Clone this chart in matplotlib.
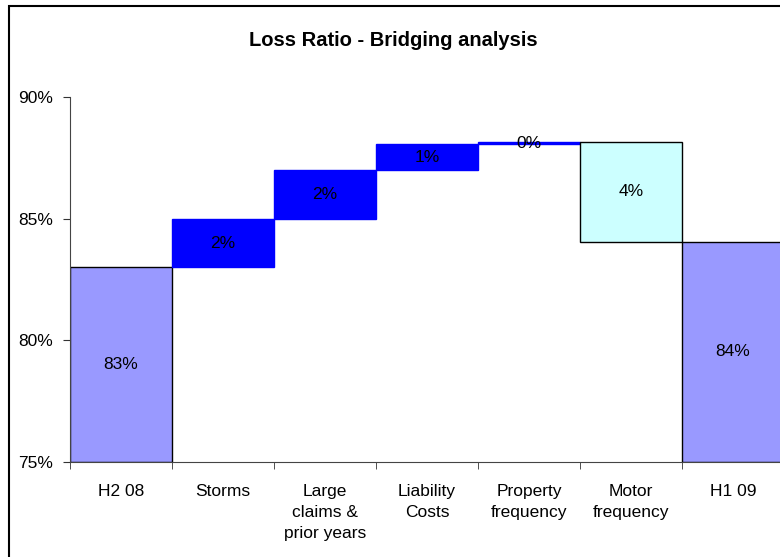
import matplotlib
matplotlib.use("Agg")
import matplotlib.pyplot as plt
from matplotlib.patches import Rectangle

categories = ["H2 08", "Storms", "Large\nclaims &\nprior years", "Liability\nCosts",
              "Property\nfrequency", "Motor\nfrequency", "H1 09"]
start_value = 83.0
deltas = [2.0, 2.0, 1.05, 0.1, -4.1]
labels = ["83%", "2%", "2%", "1%", "0%", "4%", "84%"]
yticks = [75, 80, 85, 90]
ytick_labels = ["75%", "80%", "85%", "90%"]

plt.rcParams['font.family'] = ['Liberation Sans', 'DejaVu Sans']

fig = plt.figure(figsize=(7.8, 5.57), dpi=100)
W, H = 780, 557
ax = fig.add_axes([70 / W, (H - 462) / H, (784 - 70) / W, (462 - 97) / H])

ymin = 75
bottoms, heights, colors, edges = [], [], [], []
bottoms.append(ymin); heights.append(start_value - ymin)
colors.append("#9999FF"); edges.append("black")
level = start_value
for d in deltas:
    if d >= 0:
        bottoms.append(level); heights.append(d)
        colors.append("#0000FF"); edges.append("#0000FF")
    else:
        bottoms.append(level + d); heights.append(-d)
        colors.append("#CCFFFF"); edges.append("black")
    level += d
bottoms.append(ymin); heights.append(level - ymin)
colors.append("#9999FF"); edges.append("black")

x = list(range(len(categories)))
ax.bar(x, heights, bottom=bottoms, width=1.0, color=colors, edgecolor=edges,
       linewidth=1.0, zorder=2)

for xi, b, h, lab in zip(x, bottoms, heights, labels):
    ax.text(xi, b + h / 2, lab, ha="center", va="center", fontsize=12.5, zorder=3)

ax.set_xlim(-0.5, len(categories) - 0.5)
ax.set_ylim(75, 90)
ax.set_yticks(yticks)
ax.set_yticklabels(ytick_labels, fontsize=12.5)
ax.set_xticks(x)
ax.set_xticklabels(categories, fontsize=12.5, linespacing=1.5, va="top")
ax.set_xticks([i - 0.5 for i in range(len(categories) + 1)], minor=True)
ax.tick_params(axis="x", which="major", length=0, pad=16)
ax.tick_params(axis="x", which="minor", length=5, direction="out", color="#333333")
ax.tick_params(axis="y", length=5, direction="out", color="#333333", pad=7)
for s in ["top", "right"]:
    ax.spines[s].set_visible(False)
ax.spines["left"].set_color("#444444")
ax.spines["bottom"].set_color("#444444")

fig.text(393 / W, 1 - 40 / H, "Loss Ratio - Bridging analysis", ha="center", va="center",
         fontsize=14.5, fontweight="bold")

frame = Rectangle((8.5 / W, -0.1), 1.2, 1 - 5.5 / H + 0.1, transform=fig.transFigure,
                  fill=False, edgecolor="black", linewidth=1.5, clip_on=False)
fig.patches.append(frame)

fig.savefig("out.png", dpi=100)
